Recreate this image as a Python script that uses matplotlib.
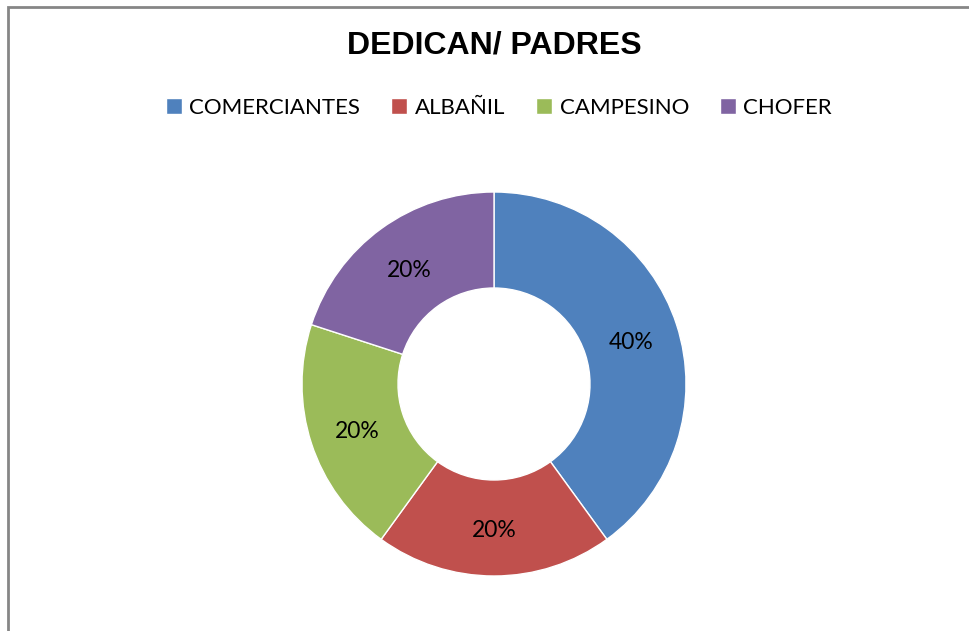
import matplotlib.pyplot as plt
from matplotlib.patches import Rectangle

categories = ['COMERCIANTES', 'ALBAÑIL', 'CAMPESINO', 'CHOFER']
values = [40, 20, 20, 20]
colors = ['#4F81BD', '#C0504D', '#9BBB59', '#8064A2']

fig = plt.figure(figsize=(9.69, 6.31), dpi=100)

# chart border (cut off at right and bottom like the reference)
fig.patches.append(Rectangle((7.5 / 969, -0.05), 1.2, (631 - 6.5) / 631 + 0.05,
                             transform=fig.transFigure, fill=False,
                             edgecolor='#868686', linewidth=2))

r = 192
ax = fig.add_axes([(494 - r) / 969, (631 - 384 - r) / 631, 2 * r / 969, 2 * r / 631])
wedges, texts, autotexts = ax.pie(values, colors=colors, startangle=90, counterclock=False,
                                  radius=1, autopct='%1.0f%%', pctdistance=0.75,
                                  wedgeprops=dict(width=0.5, edgecolor='white', linewidth=1),
                                  textprops=dict(fontsize=16.5, family='Lato'))
for t in autotexts:
    x, y = t.get_position()
    t.set_position((x, y - 0.015))
ax.set_xlim(-1, 1)
ax.set_ylim(-1, 1)
ax.axis('off')

fig.text(494 / 969, 1 - 46 / 631, 'DEDICAN/ PADRES', ha='center', va='center',
         fontsize=23, fontweight='bold', family='Liberation Sans')

fig.legend(wedges, categories, loc='center', bbox_to_anchor=(499 / 969, 1 - 108 / 631),
           ncol=4, frameon=False, prop=dict(family='Lato', size=16),
           handlelength=0.7, handleheight=0.7, handletextpad=0.35, columnspacing=1.4)

fig.savefig('out.png', dpi=100)
